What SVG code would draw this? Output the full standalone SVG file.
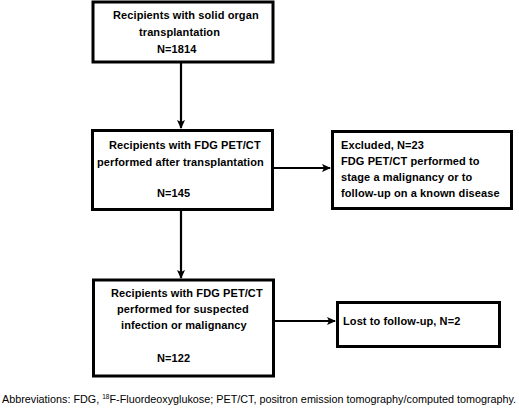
<svg xmlns="http://www.w3.org/2000/svg" width="519" height="409" viewBox="0 0 519 409">
<style>
.box{fill:#fff;stroke:#000;stroke-width:3}
.t{font-family:"Liberation Sans",Arial,sans-serif;font-size:11px;font-weight:bold;fill:#000;letter-spacing:0.1px}
.c{stroke:#000;stroke-width:2.2;fill:none}
.fn{font-family:"Liberation Sans",Arial,sans-serif;font-size:10.8px;fill:#000}
</style>
<defs>
<marker id="ah" markerWidth="10" markerHeight="10" refX="8" refY="5" orient="auto" markerUnits="userSpaceOnUse">
<path d="M0,1 L9,5 L0,9 L2,5 Z" fill="#000"/>
</marker>
</defs>
<rect width="519" height="409" fill="#fff"/>
<g id="connectors">
<line class="c" x1="181" y1="62" x2="181" y2="128" marker-end="url(#ah)"/>
<line class="c" x1="273" y1="168" x2="330" y2="168" marker-end="url(#ah)"/>
<line class="c" x1="181" y1="210" x2="181" y2="278" marker-end="url(#ah)"/>
<line class="c" x1="274" y1="321" x2="335" y2="321" marker-end="url(#ah)"/>
</g>
<g id="n1">
<rect class="box" x="93" y="2" width="180" height="60"/>
<text class="t" x="113" y="19">Recipients with solid organ</text>
<text class="t" x="139" y="36">transplantation</text>
<text class="t" x="157" y="53">N=1814</text>
</g>
<g id="n2">
<rect class="box" x="92.5" y="130.5" width="180" height="79"/>
<text class="t" x="109" y="149">Recipients with FDG PET/CT</text>
<text class="t" x="97" y="166">performed after transplantation</text>
<text class="t" x="157" y="197">N=145</text>
</g>
<g id="n3">
<rect class="box" x="332.5" y="131.5" width="179" height="77"/>
<text class="t" x="341" y="149">Excluded, N=23</text>
<text class="t" x="341" y="165">FDG PET/CT performed to</text>
<text class="t" x="341" y="181">stage a malignancy or to</text>
<text class="t" x="341" y="197">follow-up on a known disease</text>
</g>
<g id="n4">
<rect class="box" x="93.5" y="280" width="180" height="96"/>
<text class="t" x="111" y="297">Recipients with FDG PET/CT</text>
<text class="t" x="117" y="313">performed for suspected</text>
<text class="t" x="121" y="329">infection or malignancy</text>
<text class="t" x="157" y="362">N=122</text>
</g>
<g id="n5">
<rect class="box" x="337.5" y="302.5" width="162" height="44"/>
<text class="t" x="343" y="325">Lost to follow-up, N=2</text>
</g>
<text class="fn" x="2" y="403">Abbreviations: FDG, <tspan font-size="6.5" dy="-4">18</tspan><tspan dy="4">F-Fluordeoxyglukose; PET/CT, positron emission tomography/computed tomography.</tspan></text>
</svg>
